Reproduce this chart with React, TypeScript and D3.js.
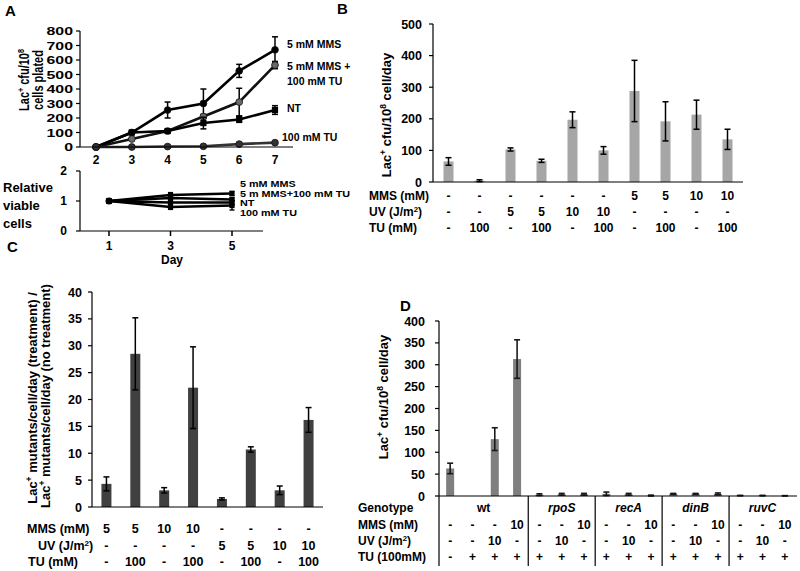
import React from 'react';
import * as d3 from 'd3';

const FONT = '"Liberation Sans", Arial, Helvetica, sans-serif';

// ---------- Panel A (top): Lac+ cfu per 10^8 cells plated ----------
const aDays = [2, 3, 4, 5, 6, 7];
const aYTicks = [0, 100, 200, 300, 400, 500, 600, 700, 800];
const aMMS = [0, 100, 255, 300, 525, 670];
const aMMSErr = [0, 8, 55, 100, 45, 90];
const aMMSTU = [0, 55, 110, 210, 310, 565];
const aMMSTUErr = [0, 5, 8, 15, 95, 25];
const aNT = [0, 100, 110, 165, 190, 255];
const aNTErr = [0, 5, 8, 40, 20, 30];
const aTU = [0, 0, 3, 5, 20, 30];
const aTUErr = [0, 0, 1, 2, 3, 3];

// ---------- Panel A (bottom): relative viable cells ----------
const vDays = [1, 3, 5];
const vYTicks = [0, 1, 2];
const vMMS = [1, 1.2, 1.25];
const vMMSErr = [0, 0.08, 0.07];
const vMMSTU = [1, 1.1, 1.05];
const vMMSTUErr = [0, 0.1, 0.06];
const vNT = [1, 0.95, 0.95];
const vNTErr = [0, 0.08, 0.08];
const vTU = [1, 0.8, 0.85];
const vTUErr = [0, 0.08, 0.15];

// ---------- Panel B ----------
const bValues = [65, 4, 103, 67, 197, 100, 288, 192, 213, 135];
const bErr = [12, 3, 5, 5, 25, 12, 97, 62, 46, 32];
const bMMS = ['-', '-', '-', '-', '-', '-', '5', '5', '10', '10'];
const bUV = ['-', '-', '5', '5', '10', '10', '-', '-', '-', '-'];
const bTU = ['-', '100', '-', '100', '-', '100', '-', '100', '-', '100'];
const bYTicks = [0, 100, 200, 300, 400, 500];

// ---------- Panel C ----------
const cValues = [4.3, 28.5, 3.1, 22.2, 1.5, 10.7, 3.1, 16.2];
const cErr = [1.3, 6.7, 0.5, 7.6, 0.2, 0.5, 0.8, 2.3];
const cMMS = ['5', '5', '10', '10', '-', '-', '-', '-'];
const cUV = ['-', '-', '-', '-', '5', '5', '10', '10'];
const cTU = ['-', '100', '-', '100', '-', '100', '-', '100'];
const cYTicks = [0, 5, 10, 15, 20, 25, 30, 35, 40];

// ---------- Panel D ----------
const dGenotypes = ['wt', 'rpoS', 'recA', 'dinB', 'ruvC'];
const dGroupSizes = [4, 3, 3, 3, 3];
const dValues = [63, 0, 130, 313, 3, 4, 4, 5, 4, 1, 5, 5, 5, 1, 1, 0.5];
const dErr = [12, 0, 26, 44, 2, 2, 2, 4, 2, 1, 1, 1, 2, 0.5, 0.5, 0.3];
const dMMS = ['-', '-', '-', '10', '-', '-', '10', '-', '-', '10', '-', '-', '10', '-', '-', '10'];
const dUV = ['-', '-', '10', '-', '-', '10', '-', '-', '10', '-', '-', '10', '-', '-', '10', '-'];
const dTU = ['-', '+', '+', '+', '+', '+', '+', '+', '+', '+', '+', '+', '+', '+', '+', '+'];
const dYTicks = [0, 50, 100, 150, 200, 250, 300, 350, 400];

const Sup = ({ children }: any) => (
  <tspan baselineShift="super" fontSize="65%">{children}</tspan>
);

function ErrBar({ x, y1, y2, cap = 3, sw = 1.5, color = '#000' }: any) {
  return (
    <g stroke={color} strokeWidth={sw}>
      <line x1={x} x2={x} y1={y1} y2={y2} />
      <line x1={x - cap} x2={x + cap} y1={y1} y2={y1} />
      <line x1={x - cap} x2={x + cap} y1={y2} y2={y2} />
    </g>
  );
}

function PanelATop() {
  const x = d3.scaleLinear().domain([2, 7]).range([96, 275]);
  const y = d3.scaleLinear().domain([0, 800]).range([147, 31]);
  const line = d3.line<number>().x((_, i) => x(aDays[i])).y((d) => y(d));
  const series = [
    { v: aMMS, e: aMMSErr, stroke: '#000', fill: '#000', shape: 'c' },
    { v: aMMSTU, e: aMMSTUErr, stroke: '#111', fill: '#6a6a6a', shape: 'c' },
    { v: aNT, e: aNTErr, stroke: '#000', fill: '#000', shape: 's' },
    { v: aTU, e: aTUErr, stroke: '#333', fill: '#333', shape: 'c' },
  ];
  return (
    <g>
      {series.map((s, k) => (
        <g key={k}>
          <path d={line(s.v) || ''} fill="none" stroke={s.stroke} strokeWidth={2.6} />
          {s.v.map((d, i) =>
            s.e[i] > 2 ? (
              <ErrBar key={'e' + i} x={x(aDays[i])} y1={y(d + s.e[i])} y2={y(d - s.e[i])} cap={3} />
            ) : null
          )}
          {s.v.map((d, i) =>
            s.shape === 'c' ? (
              <circle key={i} cx={x(aDays[i])} cy={y(d)} r={3.4} fill={s.fill} stroke="#111" strokeWidth={0.8} />
            ) : (
              <rect key={i} x={x(aDays[i]) - 3.1} y={y(d) - 3.1} width={6.2} height={6.2} fill={s.fill} />
            )
          )}
        </g>
      ))}
      <line x1={80} x2={80} y1={31} y2={147} stroke="#000" strokeWidth={1.2} />
      <line x1={80} x2={293} y1={147} y2={147} stroke="#000" strokeWidth={1.2} />
      {aYTicks.map((t) => (
        <g key={t}>
          <line x1={76} x2={80} y1={y(t)} y2={y(t)} stroke="#000" strokeWidth={1.2} />
          <text transform={`translate(73,${y(t)}) scale(1.38,1)`} dy="0.36em" textAnchor="end"
            fontSize={11.5} fontWeight="bold">{t}</text>
        </g>
      ))}
      {aDays.map((d) => (
        <text key={d} x={x(d)} y={160} dy="0.36em" textAnchor="middle" fontSize={12} fontWeight="bold">{d}</text>
      ))}
      <g fontSize={10.5} fontWeight="bold">
        <text x={287} y={44} dy="0.36em">5 mM MMS</text>
        <text x={287} y={66} dy="0.36em">5 mM MMS +</text>
        <text x={287} y={81} dy="0.36em">100 mM TU</text>
        <text x={287} y={108} dy="0.36em">NT</text>
        <text x={282} y={137} dy="0.36em">100 mM TU</text>
      </g>
      <g fontSize={11} fontWeight="bold">
        <text transform="translate(24,80) scale(1.35,1) rotate(-90)" dy="0.36em" textAnchor="middle">
          Lac<Sup>+</Sup> cfu/10<Sup>8</Sup>
        </text>
        <text transform="translate(38,80) scale(1.35,1) rotate(-90)" dy="0.36em" textAnchor="middle">
          cells plated
        </text>
      </g>
    </g>
  );
}

function PanelABottom() {
  const x = d3.scaleLinear().domain([1, 5]).range([109, 232]);
  const y = d3.scaleLinear().domain([0, 2]).range([231, 171]);
  const line = d3.line<number>().x((_, i) => x(vDays[i])).y((d) => y(d));
  const series = [
    { v: vMMS, e: vMMSErr },
    { v: vMMSTU, e: vMMSTUErr },
    { v: vNT, e: vNTErr },
    { v: vTU, e: vTUErr },
  ];
  return (
    <g>
      {series.map((s, k) => (
        <g key={k}>
          <path d={line(s.v) || ''} fill="none" stroke="#000" strokeWidth={2.4} />
          {s.v.map((d, i) =>
            s.e[i] > 0 ? (
              <ErrBar key={'e' + i} x={x(vDays[i])} y1={y(d + s.e[i])} y2={y(d - s.e[i])} cap={2.5} sw={1.4} />
            ) : null
          )}
          {s.v.map((d, i) => (
            <rect key={i} x={x(vDays[i]) - 2.6} y={y(d) - 2.6} width={5.2} height={5.2} fill="#000" />
          ))}
        </g>
      ))}
      <circle cx={x(1)} cy={y(1)} r={3.5} fill="#000" />
      <line x1={80} x2={80} y1={171} y2={231} stroke="#000" strokeWidth={1.2} />
      <line x1={80} x2={263} y1={231} y2={231} stroke="#000" strokeWidth={1.2} />
      {vYTicks.map((t) => (
        <g key={t}>
          <line x1={76} x2={80} y1={y(t)} y2={y(t)} stroke="#000" strokeWidth={1.2} />
          <text x={67} y={y(t)} dy="0.36em" textAnchor="end" fontSize={12} fontWeight="bold">{t}</text>
        </g>
      ))}
      {vDays.map((d) => (
        <g key={d}>
          <line x1={x(d)} x2={x(d)} y1={231} y2={236} stroke="#000" strokeWidth={1.5} />
          <text x={x(d)} y={246} dy="0.36em" textAnchor="middle" fontSize={12} fontWeight="bold">{d}</text>
        </g>
      ))}
      <text x={172} y={260} dy="0.36em" textAnchor="middle" fontSize={12} fontWeight="bold">Day</text>
      <g fontSize={9} fontWeight="bold">
        <text transform="translate(240,184) scale(1.2,1)" dy="0.36em">5 mM MMS</text>
        <text transform="translate(240,194) scale(1.2,1)" dy="0.36em">5 m MMS+100 mM TU</text>
        <text transform="translate(240,203) scale(1.2,1)" dy="0.36em">NT</text>
        <text transform="translate(240,213) scale(1.2,1)" dy="0.36em">100 mM TU</text>
      </g>
      <g fontSize={13} fontWeight="bold">
        <text x={3} y={187} dy="0.36em">Relative</text>
        <text x={3} y={205} dy="0.36em">viable</text>
        <text x={3} y={223} dy="0.36em">cells</text>
      </g>
    </g>
  );
}

function PanelB() {
  const x = d3.scaleBand<number>().domain(d3.range(bValues.length)).range([433, 743]);
  const y = d3.scaleLinear().domain([0, 500]).range([182, 24]);
  const bw = 10;
  const rows = [
    { label: 'MMS (mM)', vals: bMMS, y: 196 },
    { label: 'UV', vals: bUV, y: 212 },
    { label: 'TU (mM)', vals: bTU, y: 228 },
  ];
  return (
    <g>
      {bValues.map((v, i) => {
        const cx = (x(i) as number) + x.bandwidth() / 2;
        return (
          <g key={i}>
            <rect x={cx - bw / 2} y={y(v)} width={bw} height={y(0) - y(v)} fill="#a6a6a6" />
            <ErrBar x={cx} y1={y(v + bErr[i])} y2={y(Math.max(0, v - bErr[i]))} cap={3} />
          </g>
        );
      })}
      <line x1={433} x2={433} y1={24} y2={182} stroke="#000" strokeWidth={1.2} />
      <line x1={433} x2={743} y1={182} y2={182} stroke="#000" strokeWidth={1.2} />
      {bYTicks.map((t) => (
        <g key={t}>
          <line x1={429} x2={433} y1={y(t)} y2={y(t)} stroke="#000" strokeWidth={1.2} />
          <text x={422} y={y(t)} dy="0.36em" textAnchor="end" fontSize={12.5} fontWeight="bold">{t}</text>
        </g>
      ))}
      <g fontSize={12} fontWeight="bold">
        {rows.map((r) => (
          <g key={r.label}>
            <text x={369} y={r.y} dy="0.36em">
              {r.label === 'UV' ? (<>UV (J/m<Sup>2</Sup>)</>) : r.label}
            </text>
            {r.vals.map((s, i) => (
              <text key={i} x={(x(i) as number) + x.bandwidth() / 2} y={r.y} dy="0.36em" textAnchor="middle">{s}</text>
            ))}
          </g>
        ))}
      </g>
      <text transform="translate(386,115) rotate(-90)" dy="0.36em" textAnchor="middle" fontSize={13} fontWeight="bold">
        Lac<Sup>+</Sup> cfu/10<Sup>8</Sup> cell/day
      </text>
    </g>
  );
}

function PanelC() {
  const x = d3.scaleBand<number>().domain(d3.range(cValues.length)).range([92, 323]);
  const y = d3.scaleLinear().domain([0, 40]).range([507, 292]);
  const bw = 10;
  const rows = [
    { label: 'MMS (mM)', vals: cMMS, y: 528, lx: 27 },
    { label: 'UV', vals: cUV, y: 545, lx: 38 },
    { label: 'TU (mM)', vals: cTU, y: 561, lx: 28 },
  ];
  return (
    <g>
      {cValues.map((v, i) => {
        const cx = (x(i) as number) + x.bandwidth() / 2;
        return (
          <g key={i}>
            <rect x={cx - bw / 2} y={y(v)} width={bw} height={y(0) - y(v)} fill="#404040" />
            <ErrBar x={cx} y1={y(v + cErr[i])} y2={y(Math.max(0, v - cErr[i]))} cap={3} />
          </g>
        );
      })}
      <line x1={92} x2={92} y1={292} y2={507} stroke="#000" strokeWidth={1.2} />
      <line x1={92} x2={323} y1={507} y2={507} stroke="#000" strokeWidth={1.2} />
      {cYTicks.map((t) => (
        <g key={t}>
          <line x1={88} x2={92} y1={y(t)} y2={y(t)} stroke="#000" strokeWidth={1.2} />
          <text x={82} y={y(t)} dy="0.36em" textAnchor="end" fontSize={12.5} fontWeight="bold">{t}</text>
        </g>
      ))}
      <g fontSize={12.5} fontWeight="bold">
        {rows.map((r) => (
          <g key={r.label}>
            <text x={r.lx} y={r.y} dy="0.36em">
              {r.label === 'UV' ? (<>UV (J/m<Sup>2</Sup>)</>) : r.label}
            </text>
            {r.vals.map((s, i) => (
              <text key={i} x={(x(i) as number) + x.bandwidth() / 2} y={r.y} dy="0.36em" textAnchor="middle">{s}</text>
            ))}
          </g>
        ))}
      </g>
      <g fontSize={13} fontWeight="bold">
        <text transform="translate(32,398) rotate(-90)" dy="0.36em" textAnchor="middle">
          Lac<Sup>+</Sup> mutants/cell/day (treatment) /
        </text>
        <text transform="translate(45,396) rotate(-90)" dy="0.36em" textAnchor="middle">
          Lac<Sup>+</Sup> mutants/cell/day (no treatment)
        </text>
      </g>
    </g>
  );
}

function PanelD() {
  const x = d3.scaleBand<number>().domain(d3.range(dValues.length)).range([439, 796]);
  const y = d3.scaleLinear().domain([0, 400]).range([496, 321]);
  const bw = 8;
  const cxOf = (i: number) => (x(i) as number) + x.bandwidth() / 2;
  const rows = [
    { label: 'MMS (mM)', vals: dMMS, y: 525 },
    { label: 'UV', vals: dUV, y: 541 },
    { label: 'TU (100mM)', vals: dTU, y: 557 },
  ];
  const starts: number[] = [];
  let acc = 0;
  dGroupSizes.forEach((n) => { starts.push(acc); acc += n; });
  return (
    <g>
      {dValues.map((v, i) => {
        const cx = cxOf(i);
        return (
          <g key={i}>
            {v > 0 ? <rect x={cx - bw / 2} y={y(v)} width={bw} height={y(0) - y(v)} fill="#7f7f7f" /> : null}
            {dErr[i] > 0 ? (
              <ErrBar x={cx} y1={y(v + dErr[i])} y2={y(Math.max(0, v - dErr[i]))} cap={3} sw={1.6} color="#1a1a1a" />
            ) : null}
          </g>
        );
      })}
      <line x1={439} x2={439} y1={321} y2={566} stroke="#000" strokeWidth={1.2} />
      <line x1={439} x2={797} y1={496} y2={496} stroke="#000" strokeWidth={1.2} />
      {starts.slice(1).map((s) => (
        <line key={s} x1={x(s) as number} x2={x(s) as number} y1={496} y2={566} stroke="#000" strokeWidth={1.2} />
      ))}
      {dYTicks.map((t) => (
        <g key={t}>
          <line x1={435} x2={439} y1={y(t)} y2={y(t)} stroke="#000" strokeWidth={1.2} />
          <text x={425} y={y(t)} dy="0.36em" textAnchor="end" fontSize={12.5} fontWeight="bold">{t}</text>
        </g>
      ))}
      <g fontSize={12} fontWeight="bold">
        <text x={358} y={508} dy="0.36em">Genotype</text>
        {dGenotypes.map((g, k) => {
          const a = cxOf(starts[k]);
          const b = cxOf(starts[k] + dGroupSizes[k] - 1);
          return (
            <text key={g} x={(a + b) / 2} y={508} dy="0.36em" textAnchor="middle"
              fontStyle={k === 0 ? 'normal' : 'italic'}>{g}</text>
          );
        })}
        {rows.map((r) => (
          <g key={r.label}>
            <text x={358} y={r.y} dy="0.36em">
              {r.label === 'UV' ? (<>UV (J/m<Sup>2</Sup>)</>) : r.label}
            </text>
            {r.vals.map((s, i) => (
              <text key={i} x={cxOf(i)} y={r.y} dy="0.36em" textAnchor="middle">{s}</text>
            ))}
          </g>
        ))}
      </g>
      <text transform="translate(383,397) rotate(-90)" dy="0.36em" textAnchor="middle" fontSize={13} fontWeight="bold">
        Lac<Sup>+</Sup> cfu/10<Sup>8</Sup> cell/day
      </text>
    </g>
  );
}

export default function App() {
  return (
    <svg width={800} height={571} viewBox="0 0 800 571"
      style={{ position: 'absolute', left: 0, top: 0, background: '#fff', fontFamily: FONT }}
      fontFamily={FONT}>
      <rect width={800} height={571} fill="#fff" />
      <g fontSize={15} fontWeight="bold">
        <text x={5} y={11} dy="0.36em">A</text>
        <text x={337} y={9} dy="0.36em">B</text>
        <text x={7} y={247} dy="0.36em">C</text>
        <text x={400} y={306} dy="0.36em">D</text>
      </g>
      <PanelATop />
      <PanelABottom />
      <PanelB />
      <PanelC />
      <PanelD />
    </svg>
  );
}
